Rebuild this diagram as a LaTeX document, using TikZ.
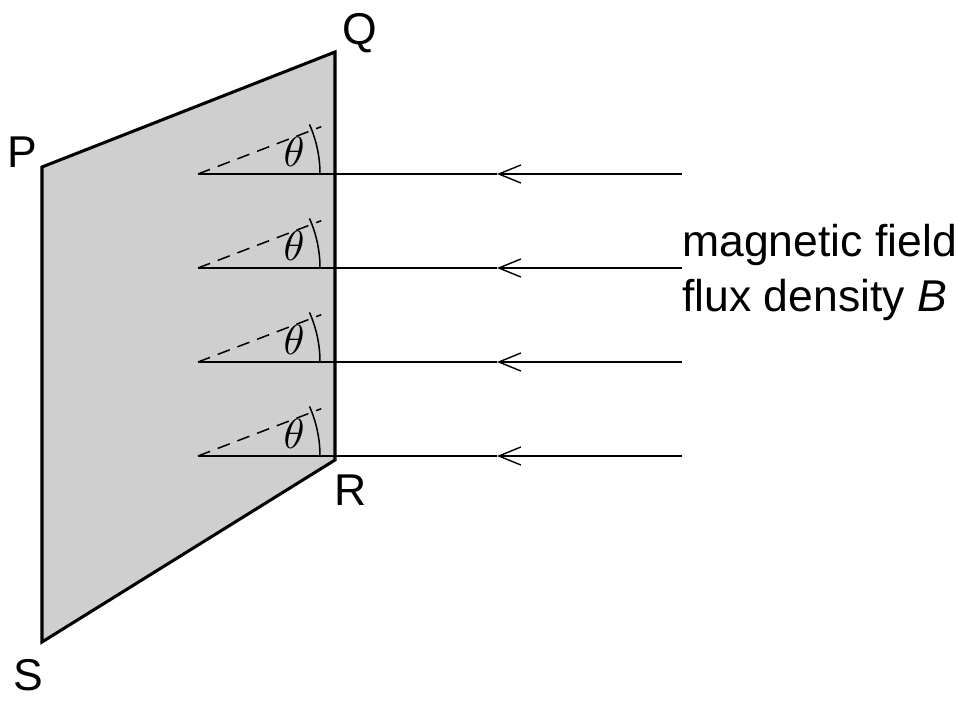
\documentclass[tikz,border=0pt]{standalone}
\usepackage{fontspec}
\setmainfont{Liberation Sans}
\usetikzlibrary{arrows.meta,calc}
\begin{document}
\begin{tikzpicture}[x=0.03cm,y=-0.03cm,
  lbl/.style={font=\fontsize{38}{44}\selectfont,inner sep=0pt},
  fld/.style={line width=1.3pt},
  tip/.style={-{Straight Barb[length=22*0.03cm,width=18*0.03cm,line width=1.2pt]}}]
\useasboundingbox (0,0) rectangle (977,703);
\coordinate (P) at (42,167);
\coordinate (Q) at (335,52);
\coordinate (R) at (335,460);
\coordinate (S) at (42,642);
\fill[black!19] (P)--(Q)--(R)--(S)--cycle;
\foreach \y [count=\i] in {174,268,362,456}{
  \coordinate (a\i) at (682,\y);
  \coordinate (m\i) at (497,\y);
  \coordinate (b\i) at (198,\y);
  \draw[fld,tip] (a\i)--(m\i);
  \draw[fld] (m\i)--(b\i);
  \draw[fld,dash pattern=on 11pt off 7pt] (b\i)--++(-21:132);
  \draw[fld] ($(b\i)+(0:122)$) arc[start angle=0,end angle=24,radius=122*0.03cm];
  \node[inner sep=0pt] (t\i) at (294,\y-22) {\scalebox{3.6}{$\theta$}};
}
\draw[line width=2.6pt,line join=miter] (P)--(Q)--(R)--(S)--cycle;
\node[lbl] (lp) at (22,152) {P};
\node[lbl] (lq) at (360,33) {Q};
\node[lbl] (lr) at (351,490) {R};
\node[lbl] (ls) at (28,675) {S};
\node[lbl,anchor=west] (m) at (682,245) {magnetic field};
\node[lbl,anchor=west] (f) at (682,300) {flux density \textit{B}};
\end{tikzpicture}
\end{document}
